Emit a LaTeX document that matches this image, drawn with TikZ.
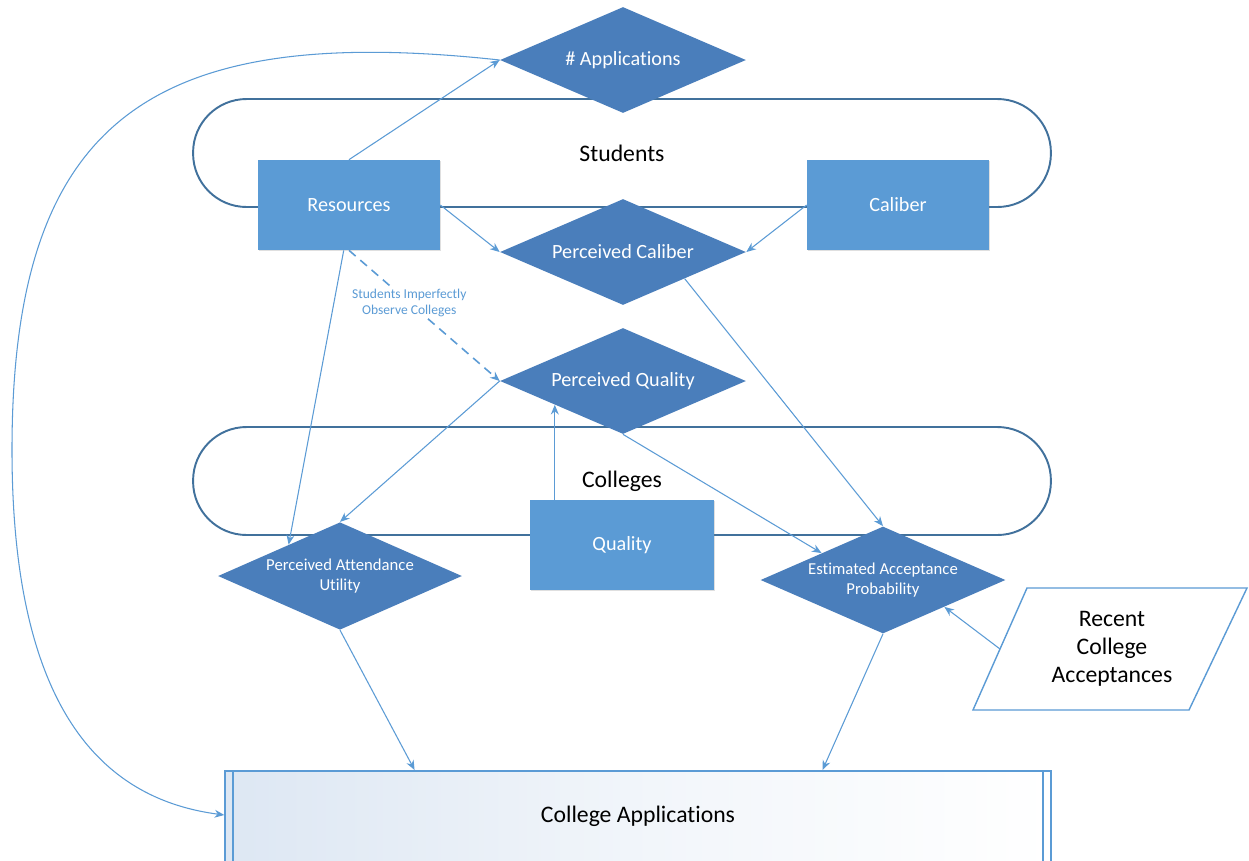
\documentclass[tikz,border=0pt]{standalone}
\usepackage{fontspec}
\setmainfont{Carlito}[Ligatures=NoCommon]
\usetikzlibrary{shapes.geometric,arrows.meta,calc,shadows}
\definecolor{diacol}{HTML}{4A7EBB}
\definecolor{boxcol}{HTML}{5B9BD5}
\definecolor{edgecol}{HTML}{41719C}
\definecolor{conncol}{HTML}{5B9BD5}
\definecolor{shadecol}{HTML}{DDE7F3}
\tikzset{
  dia/.style={diamond, shape aspect=2.3, fill=diacol, text=white, inner sep=0pt, align=center,
    minimum width=4.92cm, minimum height=2.12cm, font=\fontsize{11.5}{13}\selectfont},
  smalldia/.style={dia, minimum width=4.88cm, minimum height=2.15cm, font=\fontsize{9.5}{11.5}\selectfont},
  sq/.style={rectangle, fill=boxcol, text=white, minimum width=3.64cm, minimum height=1.8cm,
    font=\fontsize{11.5}{13}\selectfont,
    drop shadow={shadow xshift=0.6pt, shadow yshift=-0.8pt, opacity=0.25, fill=gray}},
  grp/.style={draw=edgecol, line width=1.1pt, rounded corners=1.07cm, minimum width=17.16cm,
    minimum height=2.16cm, inner sep=0pt, font=\fontsize{13.5}{16}\selectfont},
  conn/.style={draw=conncol, line width=0.6pt, -{Stealth[length=5.5pt,width=4.5pt]}},
  plain/.style={font=\fontsize{13.5}{16}\selectfont, align=center},
}
\begin{document}
\begin{tikzpicture}[x=0.02cm,y=-0.02cm]
\useasboundingbox[fill=white] (0,0) rectangle (1249,860);

% group outlines
\node[grp] (students) at (622,153) {Students};
\node[grp] (colleges) at (622,481) {Colleges};

% college applications box (cut off at bottom)
\begin{scope}
\clip (0,0) rectangle (1249,860);
\node[rectangle, draw=boxcol, line width=0.9pt, left color=shadecol, right color=white,
      middle color=white!60!shadecol,
      anchor=north, minimum width=16.52cm, minimum height=3cm] (apps) at (638,770) {};
\draw[boxcol, line width=0.9pt] (233,770) -- (233,930);
\draw[boxcol, line width=0.9pt] (1043,770) -- (1043,930);
\end{scope}
\node[plain] (appstext) at (638,816) {College Applications};

% nodes
\node[dia] (na) at (623,60) {\# Applications};
\node[sq] (res) at (349,205) {Resources};
\node[sq] (cal) at (898,205) {Caliber};
\node[dia] (pc) at (623,252) {Perceived Caliber};
\node[dia] (pq) at (623,381) {Perceived Quality};
\node[sq, minimum width=3.68cm] (qual) at (622,545) {Quality};
\node[smalldia] (pau) at (340,576) {Perceived Attendance\\Utility};
\node[smalldia, minimum width=4.9cm, minimum height=2.14cm] (eap) at (883,580) {Estimated Acceptance\\Probability};

% parallelogram
\draw[boxcol, line width=0.8pt] (1027,588) -- (1247,588) -- (1189,710) -- (973,710) -- cycle;
\node[plain] (rca) at (1112,649) {Recent\\College\\Acceptances};
\coordinate (rcaL) at (1000,649);

% helper points on borders
\coordinate (pqhit) at ($(pq.south)!0.553!(pq.west)$);
\coordinate (qualtop) at (pqhit |- qual.north);

% connectors
\draw[conn] (res.north) -- (na.west);
\draw[conn] (na.west) .. controls (150,22) and (12,120) .. (12,450)
                     .. controls (12,720) and (110,800) .. ($(apps.north west)+(0,45)$);
\draw[conn] (res.east) -- (pc.west);
\draw[conn] (cal.west) -- (pc.east);
\draw[conn] (pc.south east) -- (eap.north);
\draw[conn, line width=0.9pt, dash pattern=on 5pt off 3.5pt] (res.south) -- (pq.west)
   node[pos=0.4, fill=white, inner sep=1pt, text=boxcol, align=center,
        font=\fontsize{7.7}{9}\selectfont] (lbl) {Students Imperfectly\\Observe Colleges};
\draw[conn] ([xshift=-3pt]res.south) -- ($(pau.north)!0.42!(pau.west)$);
\draw[conn] (pq.west) -- (pau.north);
\draw[conn] (qualtop) -- (pqhit);
\draw[conn] (pq.south) -- (eap.north west);
\draw[conn] (rcaL) -- (eap.south east);
\draw[conn] (pau.south) -- ($(apps.north west)!0.23!(apps.north east)$);
\draw[conn] (eap.south) -- ($(apps.north west)!0.723!(apps.north east)$);
\end{tikzpicture}
\end{document}
